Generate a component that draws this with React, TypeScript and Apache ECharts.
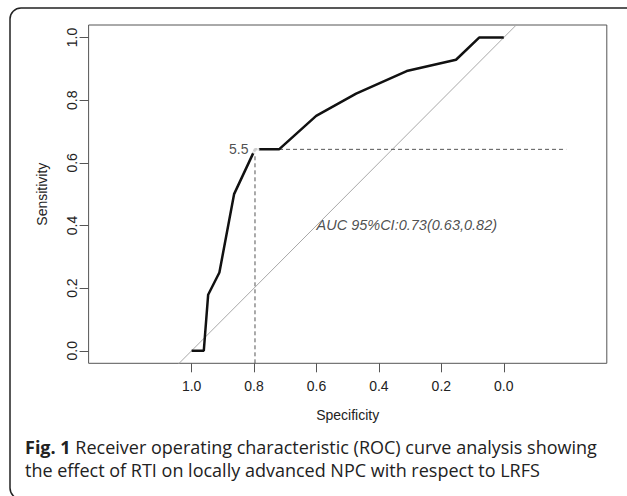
import React, { useEffect, useRef } from "react";
import * as echarts from "echarts";

// ROC curve points (specificity, sensitivity)
const specificity = [1.0, 0.961, 0.947, 0.911, 0.864, 0.797, 0.72, 0.601, 0.473, 0.311, 0.153, 0.079, 0.0];
const sensitivity = [0.0, 0.0, 0.179, 0.25, 0.5, 0.643, 0.643, 0.75, 0.821, 0.893, 0.929, 1.0, 1.0];

// best threshold
const thresholdLabel = "5.5";
const thresholdSpec = 0.797;
const thresholdSens = 0.643;

// tick labels
const xTicks = [0, 0.2, 0.4, 0.6, 0.8, 1.0];
const yTicks = [0, 0.2, 0.4, 0.6, 0.8, 1.0];

const aucText = "AUC 95%CI:0.73(0.63,0.82)";
const aucPos = [0.6, 0.4];

const captionBold = "Fig. 1";
const captionLine1 = " Receiver operating characteristic (ROC) curve analysis showing";
const captionLine2 = "the effect of RTI on locally advanced NPC with respect to LRFS";

const X_MIN = -0.33;
const X_MAX = 1.33;
const Y_MIN = -0.04;
const Y_MAX = 1.04;

export default function App() {
  const ref = useRef<HTMLDivElement>(null);
  useEffect(() => {
    if (!ref.current) return;
    const chart = echarts.init(ref.current, null, { renderer: "svg" });
    const axisFont = { fontFamily: "Liberation Sans", fontSize: 14, color: "#222" };
    const rocData = specificity.map((s, i) => [s, sensitivity[i]]);
    chart.setOption({
      animation: false,
      backgroundColor: "#fff",
      grid: {
        left: 88.6,
        right: 20.2,
        top: 25,
        bottom: 132.7,
        show: true,
        borderColor: "#555",
        borderWidth: 1,
        containLabel: false,
      },
      xAxis: {
        type: "value",
        inverse: true,
        min: X_MIN,
        max: X_MAX,
        splitLine: { show: false },
        axisLine: { show: false, onZero: false },
        axisTick: { show: true, length: 9, customValues: xTicks, lineStyle: { color: "#555" } },
        axisLabel: {
          customValues: xTicks,
          formatter: (v: number) => v.toFixed(1),
          margin: 16,
          ...axisFont,
        },
        name: "Specificity",
        nameLocation: "middle",
        nameGap: 45,
        nameTextStyle: axisFont,
      },
      yAxis: {
        type: "value",
        min: Y_MIN,
        max: Y_MAX,
        splitLine: { show: false },
        axisLine: { show: false, onZero: false },
        axisTick: { show: true, length: 9, customValues: yTicks, lineStyle: { color: "#555" } },
        axisLabel: {
          customValues: yTicks,
          formatter: (v: number) => v.toFixed(1),
          margin: 10,
          rotate: 90,
          ...axisFont,
        },
        name: "Sensitivity",
        nameLocation: "middle",
        nameGap: 40,
        nameTextStyle: axisFont,
      },
      series: [
        {
          type: "line",
          data: [
            [1.5, -0.5],
            [-0.5, 1.5],
          ],
          symbol: "none",
          lineStyle: { color: "#a8a8a8", width: 1 },
          clip: true,
          silent: true,
        },
        {
          type: "line",
          data: [
            [thresholdSpec, Y_MIN],
            [thresholdSpec, thresholdSens],
            [-0.2, thresholdSens],
          ],
          symbol: "none",
          lineStyle: { color: "#555", width: 1, type: [4, 3] },
          silent: true,
        },
        {
          type: "line",
          data: rocData,
          symbol: "none",
          lineStyle: { color: "#111", width: 2.5 },
          silent: true,
        },
        {
          type: "scatter",
          data: [[thresholdSpec, thresholdSens]],
          symbol: "emptyCircle",
          symbolSize: 7,
          itemStyle: { color: "#fff", borderColor: "#222", borderWidth: 1 },
          label: {
            show: true,
            position: "left",
            distance: 2,
            formatter: thresholdLabel,
            ...axisFont,
          },
          silent: true,
          z: 5,
        },
        {
          type: "scatter",
          data: [aucPos],
          symbolSize: 0,
          label: {
            show: true,
            position: "right",
            distance: 0,
            formatter: aucText,
            fontStyle: "italic",
            fontFamily: "Liberation Sans",
            fontSize: 14.5,
            color: "#222",
          },
          silent: true,
        },
      ],
      graphic: [
        {
          type: "rect",
          shape: { x: 10, y: 8, width: 640, height: 491, r: 11 },
          style: { fill: "none", stroke: "#222", lineWidth: 1.5 },
          silent: true,
        },
        {
          type: "text",
          x: 25,
          y: 447,
          style: {
            text: "{b|" + captionBold + "}" + captionLine1,
            fontFamily: "Open Sans",
            fontSize: 18,
            fill: "#222",
            verticalAlign: "middle",
            rich: { b: { fontWeight: "bold", fontFamily: "Open Sans", fontSize: 18, fill: "#222" } },
          },
        },
        {
          type: "text",
          x: 25,
          y: 470,
          style: {
            text: captionLine2,
            fontFamily: "Open Sans",
            fontSize: 18,
            fill: "#222",
            verticalAlign: "middle",
          },
        },
      ],
    });
    return () => chart.dispose();
  }, []);
  return (
    <div
      ref={ref}
      style={{ position: "fixed", left: 0, top: 0, width: 627, height: 496 }}
    />
  );
}
